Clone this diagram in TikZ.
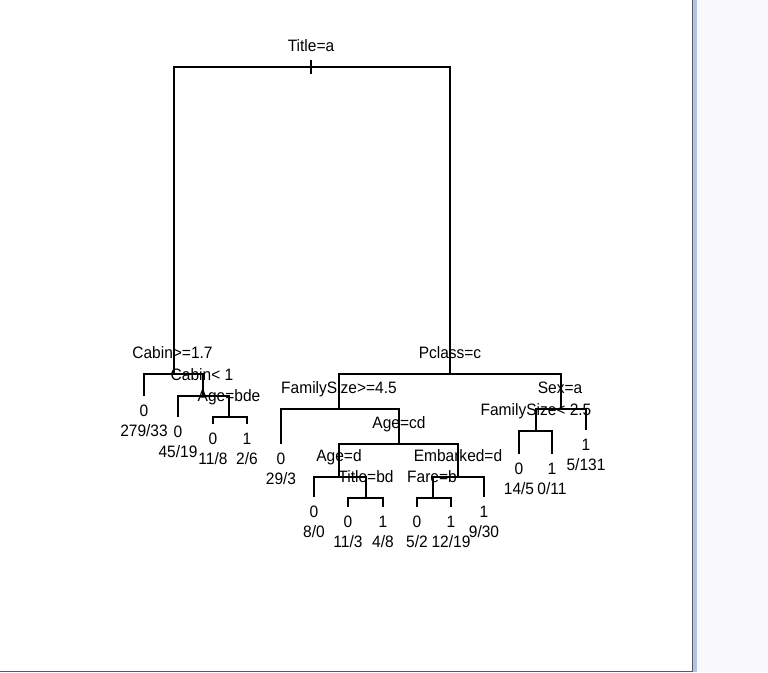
\documentclass[tikz,border=0pt]{standalone}
\usepackage{fontspec}
\setmainfont{Liberation Sans}[FakeStretch=0.94]
\usepackage{tikz}
\definecolor{framegray}{RGB}{85,90,100}
\definecolor{barblue}{RGB}{176,198,224}
\definecolor{panegray}{RGB}{249,249,251}

\begin{document}
\begin{tikzpicture}[x=1pt, y=-1pt, line width=1.2pt,
    split/.style={anchor=base, inner sep=0pt, font=\fontsize{16.5}{19}\selectfont},
    leaf/.style={split}]
    \useasboundingbox (0,0) rectangle (768,672);
    \fill[white] (0,0) rectangle (692,672);
    \fill[panegray] (692,0) rectangle (768,672);
    \fill[barblue] (693,0) rectangle (697,672);
    \draw[framegray, line width=1pt] (692,0) -- (692,671) -- (0,671);

    \coordinate (root) at (311,67);
    \coordinate (cab) at (174,374);
    \coordinate (cb1) at (203,396);
    \coordinate (agb) at (229,417);
    \coordinate (pcl) at (450,374);
    \coordinate (fs4) at (339,409);
    \coordinate (acd) at (399,444);
    \coordinate (agd) at (339,477);
    \coordinate (tbd) at (366,498);
    \coordinate (emb) at (458,477);
    \coordinate (frb) at (433,498);
    \coordinate (sex) at (561,409);
    \coordinate (fs2) at (536,431);
    \coordinate (l1) at (144,396);
    \coordinate (l2) at (178,417);
    \coordinate (l3) at (213,424);
    \coordinate (l4) at (247,424);
    \coordinate (l5) at (281,444);
    \coordinate (l6) at (314,497);
    \coordinate (l7) at (348,507);
    \coordinate (l8) at (383,507);
    \coordinate (l9) at (417,507);
    \coordinate (l10) at (451,507);
    \coordinate (l11) at (484,497);
    \coordinate (l12) at (519,454);
    \coordinate (l13) at (552,454);
    \coordinate (l14) at (586,430);

    \draw (root) -| (cab);
    \draw (root) -| (pcl);
    \draw (root) ++(0,-7) -- ++(0,14);
    \draw (cab) -| (l1);
    \draw (cab) -| (cb1);
    \draw (cb1) -| (l2);
    \draw (cb1) -| (agb);
    \draw (agb) -| (l3);
    \draw (agb) -| (l4);
    \draw (pcl) -| (fs4);
    \draw (pcl) -| (sex);
    \draw (fs4) -| (l5);
    \draw (fs4) -| (acd);
    \draw (acd) -| (agd);
    \draw (acd) -| (emb);
    \draw (agd) -| (l6);
    \draw (agd) -| (tbd);
    \draw (tbd) -| (l7);
    \draw (tbd) -| (l8);
    \draw (emb) -| (frb);
    \draw (emb) -| (l11);
    \draw (frb) -| (l9);
    \draw (frb) -| (l10);
    \draw (sex) -| (fs2);
    \draw (sex) -| (l14);
    \draw (fs2) -| (l12);
    \draw (fs2) -| (l13);

    \node[split] (troot) at ([yshift=16pt]root) {Title=a};
    \node[split] (tcab) at ([xshift=-1.5pt, yshift=16pt]cab) {Cabin>=1.7};
    \node[split] (tcb1) at ([xshift=-1pt, yshift=16pt]cb1) {Cabin< 1};
    \node[split] (tagb) at ([yshift=16pt]agb) {Age=bde};
    \node[split] (tpcl) at ([yshift=16pt]pcl) {Pclass=c};
    \node[split] (tfs4) at ([yshift=16pt]fs4) {FamilySize>=4.5};
    \node[split] (tacd) at ([yshift=16pt]acd) {Age=cd};
    \node[split] (tagd) at ([yshift=16pt]agd) {Age=d};
    \node[split] (ttbd) at ([yshift=16pt]tbd) {Title=bd};
    \node[split] (temb) at ([yshift=16pt]emb) {Embarked=d};
    \node[split] (tfrb) at ([xshift=-1pt, yshift=16pt]frb) {Fare=b};
    \node[split] (tsex) at ([xshift=-1pt, yshift=16pt]sex) {Sex=a};
    \node[split] (tfs2) at ([yshift=16pt]fs2) {FamilySize< 2.5};

    \foreach \l/\c/\n in {l1/0/{279/33}, l2/0/{45/19}, l3/0/{11/8}, l4/1/{2/6},
        l5/0/{29/3}, l6/0/{8/0}, l7/0/{11/3}, l8/1/{4/8}, l9/0/{5/2},
        l10/1/{12/19}, l11/1/{9/30}, l12/0/{14/5}, l13/1/{0/11}, l14/1/{5/131}}{
        \node[leaf] (c\l) at ([yshift=-20.5pt]\l) {\c};
        \node[leaf] (n\l) at ([yshift=-40pt]\l) {\n};
    }
\end{tikzpicture}
\end{document}
